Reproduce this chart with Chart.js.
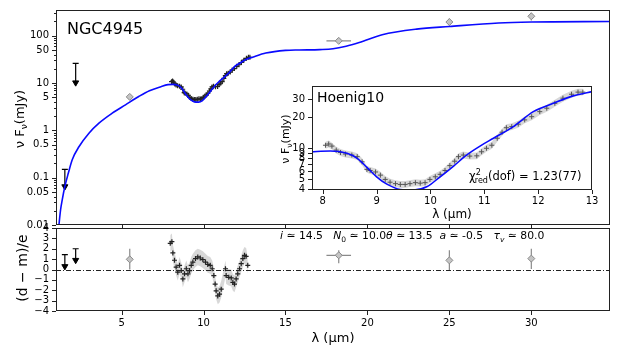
<!DOCTYPE html>
<html>
<head>
<meta charset="utf-8">
<script src="https://cdn.jsdelivr.net/npm/chart.js@4.4.1/dist/chart.umd.min.js"></script>
<style>
  body { margin: 0; background: #fff; font-family: "DejaVu Sans", sans-serif; }
  #wrap { position: relative; width: 623px; height: 346px; overflow: hidden; }
  canvas { position: absolute; left: 0; top: 0; }
  .lbl { position: absolute; color: #000; white-space: nowrap; line-height: 1; }
  .rot { transform: translate(-50%, -50%) rotate(-90deg); }
  sub, sup { font-size: 70%; line-height: 0; }
</style>
</head>
<body>
<div id="wrap">
  <canvas id="mainChart" width="623" height="346"></canvas>
  <canvas id="resChart" width="623" height="346"></canvas>
  <canvas id="insetChart" width="623" height="346"></canvas>

  <div class="lbl" style="left:67px;top:21px;font-size:16px">NGC4945</div>
  <div class="lbl rot" style="left:19px;top:119px;font-size:13px">ν F<sub>ν</sub>(mJy)</div>
  <div class="lbl rot" style="left:22px;top:268px;font-size:14px">(d − m)/e</div>
  <div class="lbl" style="left:317px;top:90px;font-size:14px">Hoenig10</div>
  <div class="lbl rot" style="left:285px;top:139px;font-size:11px">ν F<sub>ν</sub>(mJy)</div>
  <div class="lbl" style="left:469px;top:171px;font-size:11.5px">χ<sup>2</sup><sub style="margin-left:-6px">red</sub>(dof) = 1.23(77)</div>
  <div class="lbl" style="left:280px;top:231px;font-size:10.8px"><i>i</i> ≃ 14.5&nbsp;&nbsp; <i>N</i><sub>0</sub> ≃ 10.0<i>θ</i> ≃ 13.5&nbsp; <i>a</i> ≃ -0.5&nbsp;&nbsp; <i>τ<sub>v</sub></i> ≃ 80.0</div>
</div>

<script>
// axis limits
const xMin = 1, xMax = 34.8;
const xTicks = [5, 10, 15, 20, 25, 30];
const mainYTicks = [0.01, 0.05, 0.1, 0.5, 1, 5, 10, 50, 100];
const resYTicks = [-4, -3, -2, -1, 0, 1, 2, 3, 4];
const insetXTicks = [8, 9, 10, 11, 12, 13];
const insetYTicks = [4, 5, 6, 7, 8, 9, 10, 20, 30];

// model SED (blue line)
const modelX = [1.15, 1.28, 1.38, 1.54, 1.75, 1.99, 2.4, 3.01, 3.62, 4.43, 5.24, 6.05, 6.7, 7.4, 7.83, 8.14,
  8.45, 8.64, 8.82, 9.0, 9.19, 9.44, 9.69, 9.93, 10.18, 10.43, 10.67, 10.92, 11.17, 11.54, 11.91, 12.28, 12.65,
  13.0, 13.8, 15.0, 15.85, 17.1, 17.9, 18.7, 19.5, 20.9, 23.0, 25.0, 28.0, 30.0, 34.8];
const modelY = [0.008, 0.021, 0.034, 0.065, 0.124, 0.24, 0.45, 0.87, 1.42, 2.31, 3.47, 5.2, 6.9, 8.4, 9.25, 9.4,
  8.93, 7.98, 6.53, 5.3, 4.5, 4.0, 3.95, 4.24, 5.3, 6.73, 8.6, 10.5, 12.5, 16.2, 22.6, 27.2, 32.1,
  35.3, 43, 49, 50, 51, 53, 60, 72, 105, 138, 157, 186, 195, 200];

// Hoenig10 spectrum
const specX = [8.05, 8.11, 8.17, 8.25, 8.33, 8.42, 8.54, 8.64, 8.73, 8.82, 8.88, 8.98, 9.07, 9.16, 9.25, 9.35,
  9.44, 9.53, 9.62, 9.72, 9.81, 9.9, 9.99, 10.09, 10.18, 10.27, 10.36, 10.45, 10.52, 10.61, 10.73, 10.86,
  10.95, 11.04, 11.14, 11.24, 11.33, 11.41, 11.51, 11.63, 11.75, 11.88, 12.03, 12.16, 12.31, 12.46, 12.62,
  12.74, 12.83];
const specY = [10.7, 11.0, 10.5, 9.6, 9.1, 8.8, 8.6, 8.3, 7.4, 6.25, 6.1, 5.9, 5.5, 5.0, 4.7, 4.55,
  4.47, 4.47, 4.55, 4.65, 4.6, 4.65, 5.0, 5.3, 5.6, 6.1, 6.8, 7.5, 8.3, 8.6, 8.4, 8.45,
  9.25, 10.0, 10.7, 12.5, 14.3, 15.8, 16.2, 17.1, 18.8, 20.2, 22.6, 24.4, 27.2, 30.5, 33.3,
  34.9, 34.9];
const specErrFrac = 0.08;

// photometry (diamonds)
const photX = [5.5, 18.25, 25, 30];
const photY = [5.1, 78, 195, 258];
const photYLo = [4.6, 74, 165, 210];
const photYHi = [5.6, 82, 232, 305];
const photXLo = [5.5, 17.5, 25, 30];
const photXHi = [5.5, 19.0, 25, 30];

// upper limits (arrows)
const limX = [1.54, 2.2];
const limY = [0.065, 10.2];
const limTop = [0.15, 26];

// residuals
const resX = [7.97, 8.07, 8.13, 8.23, 8.33, 8.43, 8.54, 8.64, 8.74, 8.84, 8.95, 9.05, 9.15, 9.25, 9.35, 9.51,
  9.65, 9.8, 9.96, 10.12, 10.26, 10.41, 10.53, 10.63, 10.71, 10.77, 10.87, 10.98, 11.08, 11.34, 11.38,
  11.54, 11.69, 11.79, 11.89, 11.99, 12.09, 12.2, 12.3, 12.4, 12.5, 12.6, 12.7];
const resY = [2.52, 2.68, 1.6, 0.89, 0.23, -0.26, 0.4, -0.1, -0.91, -0.42, 0.07, -0.42, -0.1, 0.4, 0.72, 1.05,
  1.21, 1.11, 0.95, 0.72, 0.49, 0.4, 0.07, -0.59, -1.4, -2.06, -2.55, -2.38, -1.9, 0.07, -0.59,
  -0.75, -0.81, -1.24, -1.4, -0.91, -0.42, 0.07, 0.56, 1.05, 1.37, 1.27, 0.4];
const resBand = 0.8;
const resPhotY = [0.98, 1.37, 0.88, 1.05];
const resPhotYLo = [0.0, 0.6, -0.05, 0.05];
const resPhotYHi = [2.0, 1.86, 1.86, 2.0];
const resLimY = [0.3, 0.9];
const resLimTop = [1.43, 2.0];

const pts = (xs, ys) => xs.map((x, i) => ({ x: x, y: ys[i] }));
const fmtNum = v => (v < 0 ? '\u2212' + Math.abs(v) : String(v));
const FONT = { family: 'DejaVu Sans', size: 10 };
const noGrid = { display: false, tickLength: 4 };

// error bars, drawn under the markers
const errorBars = {
  id: 'errorBars',
  beforeDatasetsDraw(chart) {
    const { ctx } = chart;
    chart.data.datasets.forEach(ds => {
      if (!ds.errYLo && !ds.errXLo) return;
      const xs = chart.scales.x, ys = chart.scales.y;
      ctx.save();
      ctx.strokeStyle = ds.errColor || '#888';
      ctx.lineWidth = 1.2;
      ds.data.forEach((p, i) => {
        const px = xs.getPixelForValue(p.x), py = ys.getPixelForValue(p.y);
        ctx.beginPath();
        if (ds.errYLo) {
          const y1 = ys.getPixelForValue(ds.errYLo[i]), y2 = ys.getPixelForValue(ds.errYHi[i]);
          ctx.moveTo(px, y1); ctx.lineTo(px, y2);
          if (ds.cap) { ctx.moveTo(px - 3, y2); ctx.lineTo(px + 3, y2); }
        }
        if (ds.errXLo && ds.errXLo[i] !== ds.errXHi[i]) {
          ctx.moveTo(xs.getPixelForValue(ds.errXLo[i]), py);
          ctx.lineTo(xs.getPixelForValue(ds.errXHi[i]), py);
        }
        ctx.stroke();
      });
      ctx.restore();
    });
  }
};

// white inset background + frame and tick marks in matplotlib style
const frame = {
  id: 'frame',
  beforeDraw(chart, args, opts) {
    if (!opts.fill) return;
    const a = chart.chartArea;
    chart.ctx.save();
    chart.ctx.fillStyle = '#fff';
    chart.ctx.fillRect(a.left, a.top, a.width, a.height);
    chart.ctx.restore();
  },
  afterDraw(chart, args, opts) {
    const { ctx, chartArea: a } = chart;
    const xs = chart.scales.x, ys = chart.scales.y;
    ctx.save();
    ctx.strokeStyle = '#222';
    ctx.lineWidth = 1;
    if (opts.zeroLine) {
      const y0 = Math.round(ys.getPixelForValue(0)) + 0.5;
      ctx.setLineDash([5, 2, 1, 2]);
      ctx.beginPath(); ctx.moveTo(a.left, y0); ctx.lineTo(a.right, y0); ctx.stroke();
      ctx.setLineDash([]);
    }
    ctx.strokeRect(Math.round(a.left) + 0.5, Math.round(a.top) + 0.5, Math.round(a.width) - 1, Math.round(a.height) - 1);
    ctx.beginPath();
    (opts.xMajor || []).forEach(v => {
      const px = Math.round(xs.getPixelForValue(v)) + 0.5;
      ctx.moveTo(px, a.bottom); ctx.lineTo(px, a.bottom + 4);
    });
    (opts.yMajor || []).forEach(v => {
      const py = Math.round(ys.getPixelForValue(v)) + 0.5;
      ctx.moveTo(a.left, py); ctx.lineTo(a.left - 4, py);
    });
    if (opts.logMinor) {
      for (let d = ys.min; d <= ys.max; d *= 10) {
        const dec = Math.pow(10, Math.floor(Math.log10(d) + 1e-9));
        for (let m = 1; m <= 9; m++) {
          const v = dec * m;
          if (v < ys.min || v > ys.max) continue;
          const py = Math.round(ys.getPixelForValue(v)) + 0.5;
          ctx.moveTo(a.left, py); ctx.lineTo(a.left - 2, py);
        }
      }
    }
    ctx.stroke();
    ctx.restore();
  }
};

Chart.register(errorBars, frame);
Chart.defaults.font.family = 'DejaVu Sans';
Chart.defaults.animation = false;

function specBand(ys, scaleFn) {
  return [
    { data: pts(specX, ys.map(v => v / scaleFn)), showLine: true, borderWidth: 0, pointRadius: 0, fill: false, order: 5 },
    { data: pts(specX, ys.map(v => v * scaleFn)), showLine: true, borderWidth: 0, pointRadius: 0,
      fill: '-1', backgroundColor: 'rgba(200,200,200,0.7)', order: 5 }
  ];
}

const commonOpts = {
  responsive: false,
  animation: false,
  plugins: { legend: { display: false }, tooltip: { enabled: false } },
  elements: { line: { tension: 0 } }
};

// main SED panel
new Chart(document.getElementById('mainChart'), {
  type: 'scatter',
  data: {
    datasets: [
      ...specBand(specY, 1 + specErrFrac),
      { label: 'model', data: pts(modelX, modelY), showLine: true, borderColor: '#0a0aff', borderWidth: 1.6,
        pointRadius: 0, cubicInterpolationMode: 'monotone', order: 1 },
      { label: 'Hoenig10', data: pts(specX, specY), pointStyle: 'cross', pointRadius: 2.5,
        borderColor: '#222', borderWidth: 1.2, order: 2 },
      { label: 'photometry', data: pts(photX, photY), pointStyle: 'rectRot', pointRadius: 3.5,
        backgroundColor: '#c4c4c4', borderColor: '#8a8a8a', borderWidth: 1, order: 2,
        errYLo: photYLo, errYHi: photYHi, errXLo: photXLo, errXHi: photXHi, errColor: '#8a8a8a' },
      { label: 'upper limits', data: pts(limX, limY), pointStyle: 'triangle', rotation: 180, pointRadius: 3.5,
        backgroundColor: '#000', borderColor: '#000', borderWidth: 1, order: 2,
        errYLo: limY, errYHi: limTop, errColor: '#000', cap: true }
    ]
  },
  options: {
    ...commonOpts,
    layout: { padding: { left: 0, right: 13, top: 10, bottom: 121 } },
    plugins: { ...commonOpts.plugins, frame: { xMajor: xTicks, yMajor: mainYTicks, logMinor: true } },
    scales: {
      x: { type: 'linear', min: xMin, max: xMax,
        afterBuildTicks: s => { s.ticks = xTicks.map(v => ({ value: v })); },
        ticks: { display: false }, grid: noGrid, border: { display: false },
        afterFit: s => { s.height = 0; } },
      y: { type: 'logarithmic', min: 0.01, max: 350,
        afterBuildTicks: s => { s.ticks = mainYTicks.map(v => ({ value: v })); },
        ticks: { autoSkip: false, color: '#000', font: FONT, padding: 3, callback: v => fmtNum(v) },
        grid: noGrid, border: { display: false },
        afterFit: s => { s.width = 56; } }
    }
  }
});

// residual panel
new Chart(document.getElementById('resChart'), {
  type: 'scatter',
  data: {
    datasets: [
      { data: pts(resX, resY.map(v => v - resBand)), showLine: true, borderWidth: 0, pointRadius: 0, fill: false, order: 5 },
      { data: pts(resX, resY.map(v => v + resBand)), showLine: true, borderWidth: 0, pointRadius: 0,
        fill: '-1', backgroundColor: 'rgba(200,200,200,0.7)', order: 5 },
      { label: 'residuals', data: pts(resX, resY), pointStyle: 'cross', pointRadius: 2.5,
        borderColor: '#222', borderWidth: 1.2, order: 2 },
      { label: 'photometry', data: pts(photX, resPhotY), pointStyle: 'rectRot', pointRadius: 3.5,
        backgroundColor: '#c4c4c4', borderColor: '#8a8a8a', borderWidth: 1, order: 2,
        errYLo: resPhotYLo, errYHi: resPhotYHi, errXLo: photXLo, errXHi: photXHi, errColor: '#8a8a8a' },
      { label: 'upper limits', data: pts(limX, resLimY), pointStyle: 'triangle', rotation: 180, pointRadius: 3.5,
        backgroundColor: '#000', borderColor: '#000', borderWidth: 1, order: 2,
        errYLo: resLimY, errYHi: resLimTop, errColor: '#000', cap: true }
    ]
  },
  options: {
    ...commonOpts,
    layout: { padding: { left: 0, right: 13, top: 228, bottom: 0 } },
    plugins: { ...commonOpts.plugins, frame: { xMajor: xTicks, yMajor: resYTicks, zeroLine: true } },
    scales: {
      x: { type: 'linear', min: xMin, max: xMax,
        afterBuildTicks: s => { s.ticks = xTicks.map(v => ({ value: v })); },
        ticks: { autoSkip: false, maxRotation: 0, color: '#000', font: FONT, padding: 2 },
        title: { display: true, text: 'λ (μm)', color: '#000', font: { family: 'DejaVu Sans', size: 13 }, padding: 0 },
        grid: noGrid, border: { display: false },
        afterFit: s => { s.height = 35; } },
      y: { type: 'linear', min: -4, max: 4,
        afterBuildTicks: s => { s.ticks = resYTicks.map(v => ({ value: v })); },
        ticks: { autoSkip: false, color: '#000', font: FONT, padding: 3, callback: v => fmtNum(v) },
        grid: noGrid, border: { display: false },
        afterFit: s => { s.width = 56; } }
    }
  }
});

// Hoenig10 inset
new Chart(document.getElementById('insetChart'), {
  type: 'scatter',
  data: {
    datasets: [
      ...specBand(specY, 1 + specErrFrac),
      { label: 'model', data: pts(modelX, modelY), showLine: true, borderColor: '#0a0aff', borderWidth: 1.6,
        pointRadius: 0, cubicInterpolationMode: 'monotone', order: 1 },
      { label: 'Hoenig10', data: pts(specX, specY), pointStyle: 'cross', pointRadius: 2.5,
        borderColor: '#555', borderWidth: 1, order: 2 }
    ]
  },
  options: {
    ...commonOpts,
    layout: { padding: { left: 0, right: 31, top: 86, bottom: 124 } },
    plugins: { ...commonOpts.plugins, frame: { fill: true, xMajor: insetXTicks, yMajor: insetYTicks } },
    scales: {
      x: { type: 'linear', min: 7.8, max: 13,
        afterBuildTicks: s => { s.ticks = insetXTicks.map(v => ({ value: v })); },
        ticks: { autoSkip: false, maxRotation: 0, color: '#000', font: FONT, padding: 1 },
        title: { display: true, text: 'λ (μm)', color: '#000', font: { family: 'DejaVu Sans', size: 12 }, padding: 0 },
        grid: noGrid, border: { display: false },
        afterFit: s => { s.height = 32; } },
      y: { type: 'logarithmic', min: 3.95, max: 40,
        afterBuildTicks: s => { s.ticks = insetYTicks.map(v => ({ value: v })); },
        ticks: { autoSkip: false, color: '#000', font: FONT, padding: 3, callback: v => fmtNum(v) },
        grid: noGrid, border: { display: false },
        afterFit: s => { s.width = 312; } }
    }
  }
});
</script>
</body>
</html>
